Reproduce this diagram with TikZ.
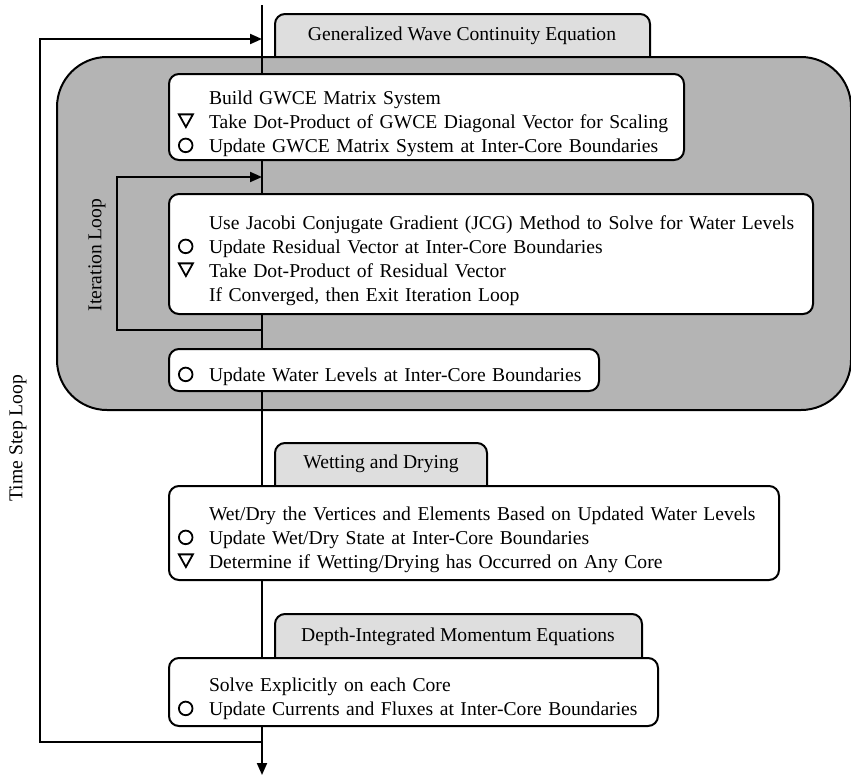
\documentclass[tikz,border=0pt]{standalone}
\usepackage{fontspec}
\setmainfont{Liberation Serif}
\usetikzlibrary{arrows.meta}
\definecolor{blockgray}{RGB}{180,180,180}
\definecolor{tabgray}{RGB}{222,222,222}
\newcommand{\trimark}{\tikz[baseline=0pt,sharp corners]\draw[line width=0.9pt,line join=miter]
  (0pt,7pt) -- (7pt,7pt) -- (3.5pt,0.7pt) -- cycle;}
\newcommand{\cirmark}{\tikz[baseline=0pt]\draw[line width=0.9pt]
  (3.5pt,3.5pt) circle (3.4pt);}
\newcommand{\withsym}[1]{\hspace*{2.5pt}\makebox[15.5pt][l]{#1}}
\newcommand{\nosym}{\hspace*{18pt}}
\tikzset{
  procbox/.style={draw, fill=white, rounded corners=5pt, line width=1pt,
    anchor=north west, align=left, inner xsep=2pt, inner ysep=0pt,
    execute at begin node={\rule{0pt}{13.5pt}}},
  tabbox/.style={draw, fill=tabgray, rounded corners=5pt, line width=1pt,
    anchor=north west},
  flow/.style={line width=1pt, -{Triangle[length=6pt,width=5pt]}}
}
\begin{document}
\begin{tikzpicture}[x=0.5pt, y=-0.5pt, font=\fontsize{9.8pt}{12pt}\selectfont]
\useasboundingbox (0,0) rectangle (851,776);
\node (gwcetab) [tabbox, minimum width=187.5pt, minimum height=28.5pt] at (274,13) {};
\node (wettab) [tabbox, minimum width=106pt, minimum height=26.5pt] at (274,442) {};
\node (depthtab) [tabbox, minimum width=183.5pt, minimum height=27pt] at (274,613) {};
\node (gwcelbl) at (462,36) {Generalized Wave Continuity Equation};
\node (wetlbl) at (381,464) {Wetting and Drying};
\node (depthlbl) at (458,637) {Depth-Integrated Momentum Equations};
\node (iterblock) [draw, fill=blockgray, rounded corners=25pt, line width=1pt,
  anchor=north west, minimum width=397pt, minimum height=176.5pt] at (56,56) {};
\coordinate (start) at (262,5);
\coordinate (end) at (262,775);
\coordinate (tsbot) at (262,742);
\coordinate (tstop) at (262,39);
\coordinate (itbot) at (262,330);
\coordinate (ittop) at (262,177);
\draw[flow] (start) -- (end);
\draw[flow] (tsbot) -- ++(-222,0) |- (tstop);
\draw[flow] (itbot) -- ++(-145,0) |- (ittop);
\node (build) [procbox, text width=253.5pt, minimum height=43pt] at (168,73)
  {\nosym Build GWCE Matrix System\\
   \withsym{\trimark}Take Dot-Product of GWCE Diagonal Vector for Scaling\\
   \withsym{\cirmark}Update GWCE Matrix System at Inter-Core Boundaries};
\node (jcg) [procbox, text width=318pt, minimum height=60pt] at (168,193)
  {\nosym Use Jacobi Conjugate Gradient (JCG) Method to Solve for Water Levels\\
   \withsym{\cirmark}Update Residual Vector at Inter-Core Boundaries\\
   \withsym{\trimark}Take Dot-Product of Residual Vector\\
   \nosym If Converged, then Exit Iteration Loop};
\node (water) [procbox, text width=211pt, minimum height=21pt] at (168,348)
  {\withsym{\cirmark}Update Water Levels at Inter-Core Boundaries};
\node (wetdry) [procbox, text width=301pt, minimum height=47pt] at (168,485)
  {\nosym Wet/Dry the Vertices and Elements Based on Updated Water Levels\\
   \withsym{\cirmark}Update Wet/Dry State at Inter-Core Boundaries\\
   \withsym{\trimark}Determine if Wetting/Drying has Occurred on Any Core};
\node (solve) [procbox, text width=240.5pt, minimum height=34pt] at (168,657)
  {\nosym Solve Explicitly on each Core\\
   \withsym{\cirmark}Update Currents and Fluxes at Inter-Core Boundaries};
\node (tslbl) [rotate=90] at (18,438) {Time Step Loop};
\node (itlbl) [rotate=90] at (97,255) {Iteration Loop};
\end{tikzpicture}
\end{document}
